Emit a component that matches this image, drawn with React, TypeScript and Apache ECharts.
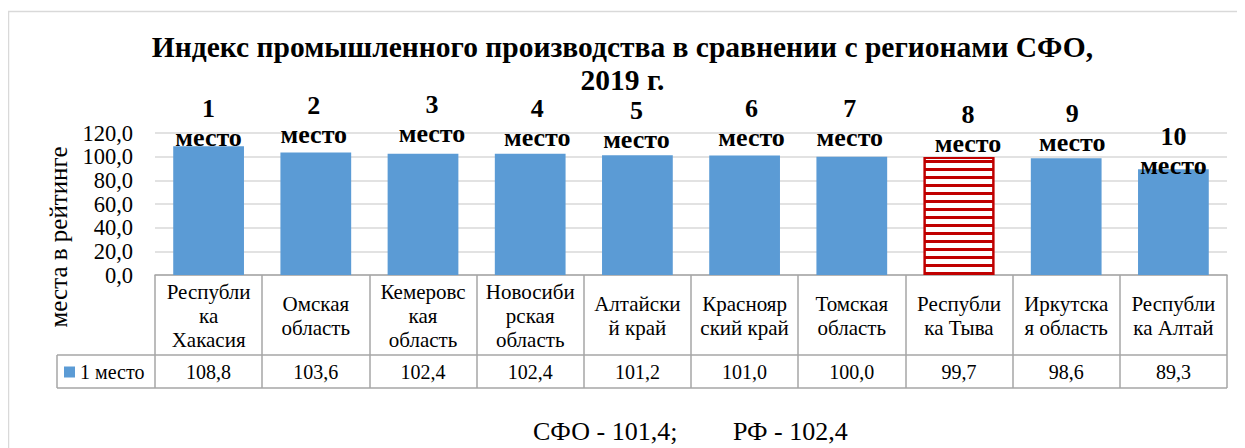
import React, { useEffect, useRef } from "react";
import * as echarts from "echarts";

const titleText = "Индекс промышленного производства в сравнении с регионами СФО,\n2019 г.";
const categories = [
  "Республи\nка\nХакасия",
  "Омская\nобласть",
  "Кемеровс\nкая\nобласть",
  "Новосиби\nрская\nобласть",
  "Алтайски\nй край",
  "Краснояр\nский край",
  "Томская\nобласть",
  "Республи\nка Тыва",
  "Иркутска\nя область",
  "Республи\nка Алтай",
];
const values = [108.8, 103.6, 102.4, 102.4, 101.2, 101.0, 100.0, 99.7, 98.6, 89.3];
const ranks = [1, 2, 3, 4, 5, 6, 7, 8, 9, 10];
const seriesName = "1 место";
const highlightIndex = 7;
const yMin = 0;
const yMax = 120;
const yInterval = 20;
const axisTitle = "места в рейтинге";
const sfoValue = 101.4;
const rfValue = 102.4;

// label nudges (style only): [dx, dy]
const labelNudges: [number, number][] = [
  [0, 10.5], [-2, 1.5], [9, -0.5], [7, 3.5], [-1, 3.5],
  [7, 1.5], [-2, 0.5], [9, 5.5], [6, 3.5], [0, 15.5],
];

const FONT = "Liberation Serif";
const fmt = (v: number) => v.toFixed(1).replace(".", ",");

export default function App() {
  const ref = useRef<HTMLDivElement>(null);
  useEffect(() => {
    if (!ref.current) return;
    document.documentElement.style.overflow = "hidden";
    const chart = echarts.init(ref.current, undefined, { renderer: "svg" });
    const gridLeft = 147;
    const gridRight = 10;
    const gridTop = 125;
    const H = 440;
    const axisY = 267;
    const gridBottom = H - axisY;
    const W = ref.current.clientWidth;
    const row1 = axisY + 80;
    const row2 = axisY + 113;

    const data = values.map((v, i) => {
      const item: any = {
        value: v,
        label: { offset: labelNudges[i] },
      };
      if (i === highlightIndex) {
        item.itemStyle = {
          color: "#ffffff",
          borderColor: "#C00000",
          borderWidth: 2,
          decal: {
            symbol: "rect",
            symbolSize: 1,
            dashArrayX: [1, 0],
            dashArrayY: [3, 5],
            color: "#C00000",
            rotation: 0,
          },
        };
      }
      return item;
    });

    chart.setOption({
      animation: false,
      textStyle: { fontFamily: FONT, color: "#000" },
      title: {
        text: titleText,
        left: "center",
        top: 17,
        textStyle: {
          fontFamily: FONT,
          fontSize: 29.5,
          fontWeight: "bold",
          lineHeight: 33,
          color: "#000",
        },
      },
      legend: {
        data: [seriesName],
        left: 56,
        top: axisY + 87,
        padding: 0,
        itemWidth: 11,
        itemHeight: 11,
        icon: "rect",
        textStyle: { fontFamily: FONT, fontSize: 20, color: "#000" },
      },
      grid: { left: gridLeft, right: gridRight, top: gridTop, bottom: gridBottom },
      xAxis: [
        {
          type: "category",
          data: categories,
          axisLine: { lineStyle: { color: "#A6A6A6", width: 1.5 } },
          axisTick: { show: true, length: 113, lineStyle: { color: "#A6A6A6", width: 1.5 } },
          axisLabel: {
            interval: 0,
            margin: 41,
            verticalAlign: "middle",
            fontFamily: FONT,
            fontSize: 21,
            lineHeight: 24,
            color: "#000",
          },
        },
        {
          type: "category",
          data: categories,
          position: "bottom",
          axisLine: { show: false },
          axisTick: { show: false },
          axisLabel: {
            interval: 0,
            margin: 97,
            verticalAlign: "middle",
            fontFamily: FONT,
            fontSize: 20,
            color: "#000",
            formatter: (_v: string, i: number) => fmt(values[i]),
          },
        },
      ],
      yAxis: {
        type: "value",
        min: yMin,
        max: yMax,
        interval: yInterval,
        axisLine: { show: false },
        axisTick: { show: false },
        splitLine: { lineStyle: { color: "#D9D9D9", width: 1.5 } },
        axisLabel: {
          margin: 22,
          fontFamily: FONT,
          fontSize: 22.5,
          showMinLabel: true,
          showMaxLabel: true,
          color: "#000",
          formatter: (v: number) => fmt(v),
        },
      },
      series: [
        {
          type: "bar",
          name: seriesName,
          barWidth: "66%",
          xAxisIndex: 0,
          itemStyle: { color: "#5B9BD5" },
          label: {
            show: true,
            position: "top",
            distance: 5,
            fontFamily: FONT,
            fontSize: 26,
            fontWeight: "bold",
            lineHeight: 29,
            color: "#000",
            formatter: (p: any) => `${ranks[p.dataIndex]}\nместо`,
          },
          data,
        },
      ],
      graphic: [
        {
          type: "rect",
          z: -10,
          silent: true,
          shape: { x: 0.5, y: 3.5, width: W + 40, height: 600 },
          style: { fill: "none", stroke: "#D9D9D9", lineWidth: 1.5 },
        },
        {
          type: "line",
          silent: true,
          shape: { x1: 49, y1: row1, x2: W - gridRight, y2: row1 },
          style: { stroke: "#A6A6A6", lineWidth: 1.5 },
        },
        {
          type: "line",
          silent: true,
          shape: { x1: 49, y1: row2, x2: W - gridRight, y2: row2 },
          style: { stroke: "#A6A6A6", lineWidth: 1.5 },
        },
        {
          type: "line",
          silent: true,
          shape: { x1: 49, y1: row1, x2: 49, y2: row2 },
          style: { stroke: "#A6A6A6", lineWidth: 1.5 },
        },
        {
          type: "text",
          x: 50,
          y: 229,
          rotation: Math.PI / 2,
          style: {
            text: axisTitle,
            fontFamily: FONT,
            fontSize: 25,
            fill: "#000",
            align: "center",
            verticalAlign: "middle",
          },
        },
        {
          type: "text",
          x: 525,
          y: 423,
          style: {
            text: `СФО - ${fmt(sfoValue)};`,
            fontFamily: FONT,
            fontSize: 26,
            fill: "#000",
            align: "left",
            verticalAlign: "middle",
          },
        },
        {
          type: "text",
          x: 725,
          y: 423,
          style: {
            text: `РФ - ${fmt(rfValue)}`,
            fontFamily: FONT,
            fontSize: 26,
            fill: "#000",
            align: "left",
            verticalAlign: "middle",
          },
        },
      ],
    });
    return () => chart.dispose();
  }, []);
  return <div ref={ref} style={{ width: "100%", height: 440 }} />;
}
